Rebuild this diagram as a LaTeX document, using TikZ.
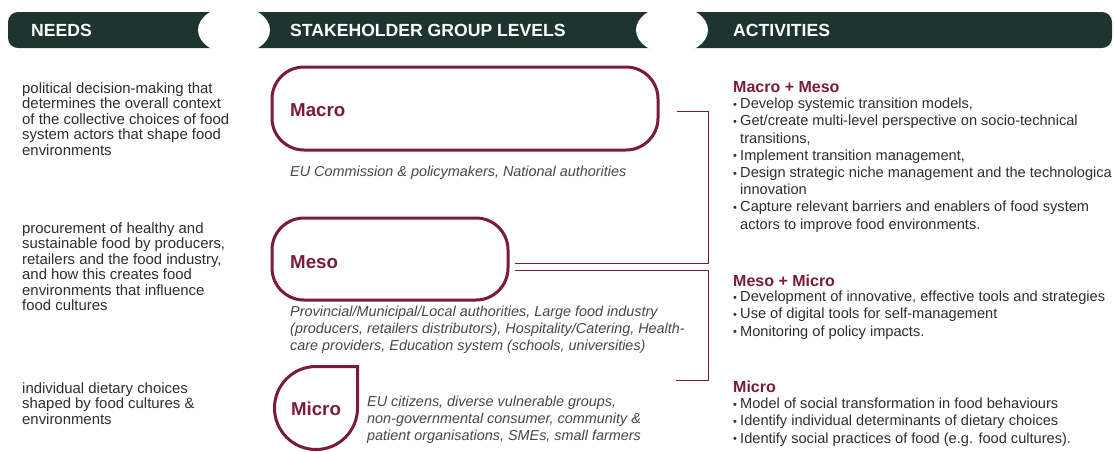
\documentclass[tikz,border=0pt]{standalone}
\usepackage{fontspec}
\setmainfont{Liberation Sans}
\usepackage{tikz}
\definecolor{headgreen}{RGB}{29,52,47}
\definecolor{maroon}{RGB}{122,27,58}
\definecolor{textgray}{RGB}{45,45,45}
\definecolor{descgray}{RGB}{70,70,70}
\tikzstyle{headtext}  = [anchor=west,inner sep=0pt,text=white,font=\bfseries\fontsize{17.6}{20}\selectfont]
\tikzstyle{needtext}  = [anchor=north west,align=left,inner sep=0pt,text=textgray,font=\fontsize{14.9}{15.5}\selectfont]
\tikzstyle{levelbox}  = [draw=maroon,line width=3pt,rounded corners=32pt]
\tikzstyle{levelline} = [draw=maroon,line width=3pt]
\tikzstyle{levellabel}= [anchor=west,inner sep=0pt,text=maroon,font=\bfseries\fontsize{18.7}{22}\selectfont]
\tikzstyle{leveldesc} = [anchor=north west,align=left,inner sep=0pt,text=descgray,font=\itshape\fontsize{14.4}{17}\selectfont]
\tikzstyle{acthead}   = [anchor=west,inner sep=0pt,text=maroon,font=\bfseries\fontsize{16}{18}\selectfont]
\tikzstyle{acttext}   = [anchor=north west,align=left,inner sep=0pt,text=textgray,font=\fontsize{14.6}{17.2}\selectfont]
\tikzstyle{bracket}   = [draw=maroon,line width=0.8pt]
\newcommand{\bul}{\makebox[7pt][l]{\raisebox{0.5pt}{\fontsize{11}{11}\selectfont\textbullet}}}
\newcommand{\cont}{\hspace*{7pt}}

\begin{document}
\begin{tikzpicture}[x=1pt,y=-1pt]
  \useasboundingbox (0,0) rectangle (1115,451);

  %header bars with the round cut-outs between them
  \fill[headgreen,rounded corners=10pt] (8,12) rectangle (1112,48);
  \foreach \cx in {234,672}{
    \fill[white] (\cx,30) ellipse [x radius=36, y radius=24];
  }
  \node[headtext] (needshead) at (31,30) {NEEDS};
  \node[headtext] (levelshead) at (290,30) {STAKEHOLDER GROUP LEVELS};
  \node[headtext] (actshead) at (733,30) {ACTIVITIES};

  %needs on the left
  \node[needtext] (need1) at (22,82) {political decision-making that\\determines the overall context\\of the collective choices of food\\system actors that shape food\\environments};
  \node[needtext] (need2) at (22,222) {procurement of healthy and\\sustainable food by producers,\\retailers and the food industry,\\and how this creates food\\environments that influence\\food cultures};
  \node[needtext] (need3) at (22,382) {individual dietary choices\\shaped by food cultures \&\\environments};

  %stakeholder levels in the middle
  \node[levelbox,minimum width=386pt,minimum height=83pt] (macro) at (465,108.5) {};
  \node[levellabel] (macrolbl) at (290,110) {Macro};
  \node[leveldesc] (macrodesc) at (290,166) {EU Commission \& policymakers, National authorities};

  \node[levelbox,minimum width=236pt,minimum height=82pt] (meso) at (390,259) {};
  \node[levellabel] (mesolbl) at (290,262) {Meso};
  \node[leveldesc] (mesodesc) at (290,306) {Provincial/Municipal/Local authorities, Large food industry\\(producers, retailers distributors), Hospitality/Catering, Health-\\care providers, Education system (schools, universities)};

  \node[levellabel,anchor=center] (micro) at (316,409) {Micro};
  \draw[levelline] (357.5,366.5) -- (357.5,408) arc[start angle=0,end angle=270,radius=41.5] -- cycle;
  \node[leveldesc] (microdesc) at (367,396) {EU citizens, diverse vulnerable groups,\\non-governmental consumer, community \&\\patient organisations, SMEs, small farmers};

  %brackets joining the levels
  \coordinate (mmtop) at (677,111);
  \coordinate (mmbot) at (515,263);
  \coordinate (mitop) at (515,270);
  \coordinate (mibot) at (676,380);
  \draw[bracket] (mmtop) -| (708,263) -- (mmbot);
  \draw[bracket] (mitop) -| (708,380) -- (mibot);

  %activities on the right
  \node[acthead] (mmhead) at (733,87) {Macro + Meso};
  \node[acttext] (mmlist) at (733,98) {\bul Develop systemic transition models,\\\bul Get/create multi-level perspective on socio-technical\\\cont transitions,\\\bul Implement transition management,\\\bul Design strategic niche management and the technologica\\\cont innovation\\\bul Capture relevant barriers and enablers of food system\\\cont actors to improve food environments.};

  \node[acthead] (mihead) at (733,281) {Meso + Micro};
  \node[acttext] (milist) at (733,291) {\bul Development of innovative, effective tools and strategies\\\bul Use of digital tools for self-management\\\bul Monitoring of policy impacts.};

  \node[acthead] (microhead) at (733,387) {Micro};
  \node[acttext] (microlist) at (733,398) {\bul Model of social transformation in food behaviours\\\bul Identify individual determinants of dietary choices\\\bul Identify social practices of food (e.g. food cultures).};
\end{tikzpicture}
\end{document}
